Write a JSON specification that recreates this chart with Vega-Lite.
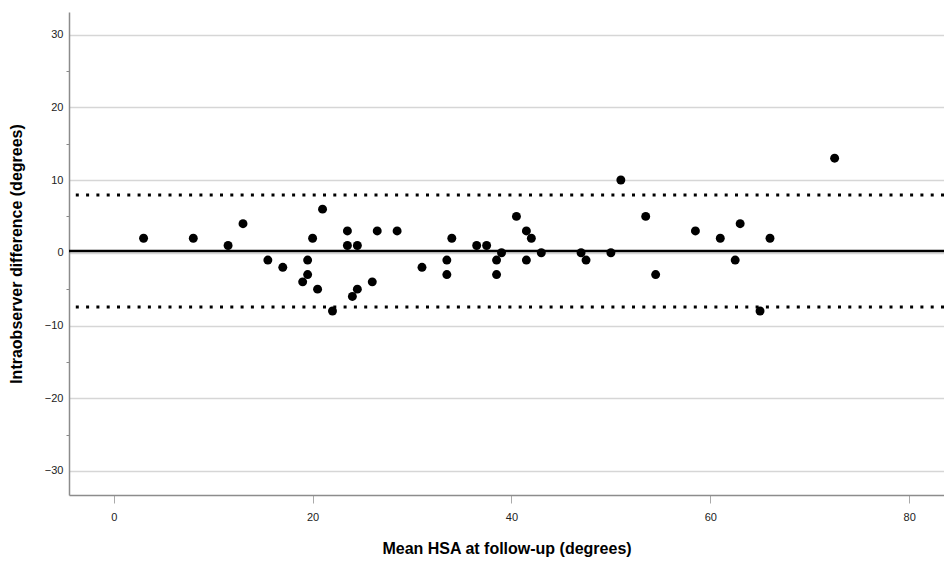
{
  "$schema": "https://vega.github.io/schema/vega-lite/v6.json",
  "autosize": {"type": "none"},
  "padding": {"left": 69, "top": 12, "right": 0, "bottom": 69},
  "width": 875,
  "height": 483,
  "background": "white",
  "config": {
    "view": {"stroke": null},
    "font": "Liberation Sans"
  },
  "datasets": {
    "points": [
      {"mean": 3, "diff": 2},
      {"mean": 8, "diff": 2},
      {"mean": 11.5, "diff": 1},
      {"mean": 13, "diff": 4},
      {"mean": 15.5, "diff": -1},
      {"mean": 17, "diff": -2},
      {"mean": 19, "diff": -4},
      {"mean": 19.5, "diff": -1},
      {"mean": 19.5, "diff": -3},
      {"mean": 20, "diff": 2},
      {"mean": 20.5, "diff": -5},
      {"mean": 21, "diff": 6},
      {"mean": 22, "diff": -8},
      {"mean": 23.5, "diff": 3},
      {"mean": 23.5, "diff": 1},
      {"mean": 24, "diff": -6},
      {"mean": 24.5, "diff": 1},
      {"mean": 24.5, "diff": -5},
      {"mean": 26, "diff": -4},
      {"mean": 26.5, "diff": 3},
      {"mean": 28.5, "diff": 3},
      {"mean": 31, "diff": -2},
      {"mean": 33.5, "diff": -1},
      {"mean": 33.5, "diff": -3},
      {"mean": 34, "diff": 2},
      {"mean": 36.5, "diff": 1},
      {"mean": 37.5, "diff": 1},
      {"mean": 38.5, "diff": -1},
      {"mean": 38.5, "diff": -3},
      {"mean": 39, "diff": 0},
      {"mean": 40.5, "diff": 5},
      {"mean": 41.5, "diff": 3},
      {"mean": 41.5, "diff": -1},
      {"mean": 42, "diff": 2},
      {"mean": 43, "diff": 0},
      {"mean": 47, "diff": 0},
      {"mean": 47.5, "diff": -1},
      {"mean": 50, "diff": 0},
      {"mean": 51, "diff": 10},
      {"mean": 53.5, "diff": 5},
      {"mean": 54.5, "diff": -3},
      {"mean": 58.5, "diff": 3},
      {"mean": 61, "diff": 2},
      {"mean": 62.5, "diff": -1},
      {"mean": 63, "diff": 4},
      {"mean": 65, "diff": -8},
      {"mean": 66, "diff": 2},
      {"mean": 72.5, "diff": 13}
    ],
    "lines": [
      {"line": "mean", "diff": 0.25},
      {"line": "upper", "diff": 7.95},
      {"line": "lower", "diff": -7.45}
    ]
  },
  "encoding": {
    "y": {
      "field": "diff",
      "type": "quantitative",
      "scale": {"domain": [-33.3, 33.1], "nice": false, "zero": false},
      "axis": {
        "title": "Intraobserver difference (degrees)",
        "titleFont": "Liberation Sans",
        "titleFontSize": 16,
        "titleFontWeight": "bold",
        "titleColor": "black",
        "titlePadding": 20,
        "values": [-30, -25, -20, -15, -10, -5, 0, 5, 10, 15, 20, 25, 30],
        "labelExpr": "datum.value % 10 === 0 ? datum.label : ''",
        "labelFont": "Liberation Sans",
        "labelFontSize": 11,
        "labelColor": "#222222",
        "labelPadding": 3,
        "tickSize": 3,
        "tickColor": "#888888",
        "tickOpacity": {"condition": {"test": "datum.value % 10 === 0", "value": 0}, "value": 1},
        "grid": true,
        "gridColor": "#d6d6d6",
        "gridWidth": 1.5,
        "gridOpacity": {"condition": {"test": "datum.value % 10 === 0", "value": 1}, "value": 0},
        "domainColor": "#8c8c8c",
        "domainWidth": 1.5
      }
    }
  },
  "layer": [
    {
      "data": {"name": "lines"},
      "transform": [{"filter": "datum.line === 'mean'"}],
      "mark": {"type": "rule", "color": "black", "strokeWidth": 2.5}
    },
    {
      "data": {"name": "lines"},
      "transform": [{"filter": "datum.line !== 'mean'"}],
      "mark": {"type": "rule", "color": "black", "strokeWidth": 3, "strokeDash": [3, 7.3]}
    },
    {
      "data": {"name": "points"},
      "mark": {"type": "circle", "size": 80, "color": "black", "opacity": 1},
      "encoding": {
        "x": {
          "field": "mean",
          "type": "quantitative",
          "scale": {"domain": [-4.5, 83.5], "nice": false, "zero": false},
          "axis": {
            "title": "Mean HSA at follow-up (degrees)",
            "titleFont": "Liberation Sans",
            "titleFontSize": 16,
            "titleFontWeight": "bold",
            "titleColor": "black",
            "titlePadding": 18,
            "values": [0, 20, 40, 60, 80],
            "labelFont": "Liberation Sans",
            "labelFontSize": 11,
            "labelColor": "#222222",
            "labelPadding": 8,
            "tickSize": 8,
            "tickColor": "#aaaaaa",
            "grid": false,
            "domainColor": "#8c8c8c",
            "domainWidth": 1.5
          }
        }
      }
    }
  ]
}
